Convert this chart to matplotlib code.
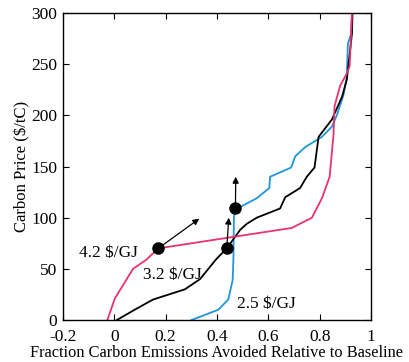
import matplotlib
matplotlib.use('Agg')
import matplotlib.pyplot as plt
from matplotlib.ticker import FuncFormatter

plt.rcParams['font.family'] = ['Liberation Serif', 'DejaVu Serif']
plt.rcParams['mathtext.default'] = 'regular'

# pink curve (4.2 $/GJ)
red_x = [-0.027, 0.002, 0.073, 0.125, 0.171, 0.692, 0.77, 0.809, 0.839, 0.854, 0.858, 0.88, 0.906, 0.917, 0.926]
red_y = [0, 21, 50, 59, 70, 90, 100, 119, 140, 181, 209, 229, 241, 248, 300]

# black curve (3.2 $/GJ)
blk_x = [0.01, 0.086, 0.151, 0.275, 0.334, 0.399, 0.438, 0.49, 0.516, 0.555, 0.646, 0.666, 0.724, 0.75, 0.78,
         0.796, 0.848, 0.887, 0.906, 0.926, 0.928]
blk_y = [0, 11, 20, 30, 40, 60, 70, 88, 94, 100, 109, 120, 129, 140, 149, 179, 196, 218, 235, 280, 300]

# blue curve (2.5 $/GJ)
blu_x = [0.301, 0.405, 0.444, 0.461, 0.464, 0.466, 0.468, 0.487, 0.555, 0.604, 0.607, 0.689, 0.705, 0.744,
         0.809, 0.848, 0.867, 0.893, 0.906, 0.91, 0.922, 0.926]
blu_y = [0, 10, 20, 39, 59, 100, 104, 110, 119, 129, 140, 149, 160, 169, 179, 189, 200, 220, 238, 270, 279, 300]

# points and arrow tips
pts_x = [0.171, 0.438, 0.472]
pts_y = [70, 70, 109]
tip_x = [0.331, 0.446, 0.473]
tip_y = [99, 100, 140]

labels = ['4.2 $/GJ', '3.2 $/GJ', '2.5 $/GJ']
lab_x = [-0.139, 0.112, 0.477]
lab_y = [65, 44, 16]

fig = plt.figure(figsize=(4.09, 3.62), dpi=100)
ax = fig.add_axes([0.154, 0.116, 0.753, 0.848])

ax.plot(blu_x, blu_y, color='#1e96dc', lw=1.3)
ax.plot(blk_x, blk_y, color='black', lw=1.3)
ax.plot(red_x, red_y, color='#e8336b', lw=1.3)

for i in range(len(pts_x)):
    ax.annotate('', xy=(tip_x[i], tip_y[i]), xytext=(pts_x[i], pts_y[i]),
                arrowprops=dict(arrowstyle='-|>', color='black', lw=0.9,
                                mutation_scale=9, shrinkA=0, shrinkB=0))
ax.plot(pts_x, pts_y, 'o', color='black', ms=8, zorder=5)

for i in range(len(labels)):
    ax.text(lab_x[i], lab_y[i], labels[i].replace('$', r'\$'), fontsize=12.5, va='center', ha='left')

ax.set_xlim(-0.2, 1)
ax.set_ylim(0, 300)
ax.set_xticks([-0.2, 0, 0.2, 0.4, 0.6, 0.8, 1])
ax.set_yticks([0, 50, 100, 150, 200, 250, 300])
ax.xaxis.set_major_formatter(FuncFormatter(lambda v, p: '%g' % round(v, 2)))
ax.tick_params(direction='in', top=True, right=True, length=4, width=0.8, labelsize=12.5)
ax.tick_params(axis='x', pad=6.2)
ax.tick_params(axis='y', pad=4)
for s in ax.spines.values():
    s.set_linewidth(1.0)

ax.set_xlabel('Fraction Carbon Emissions Avoided Relative to Baseline', fontsize=11.8, labelpad=0)
ax.set_ylabel('Carbon Price ($/tC)', fontsize=12, labelpad=1)

plt.savefig('out.png', dpi=100)
